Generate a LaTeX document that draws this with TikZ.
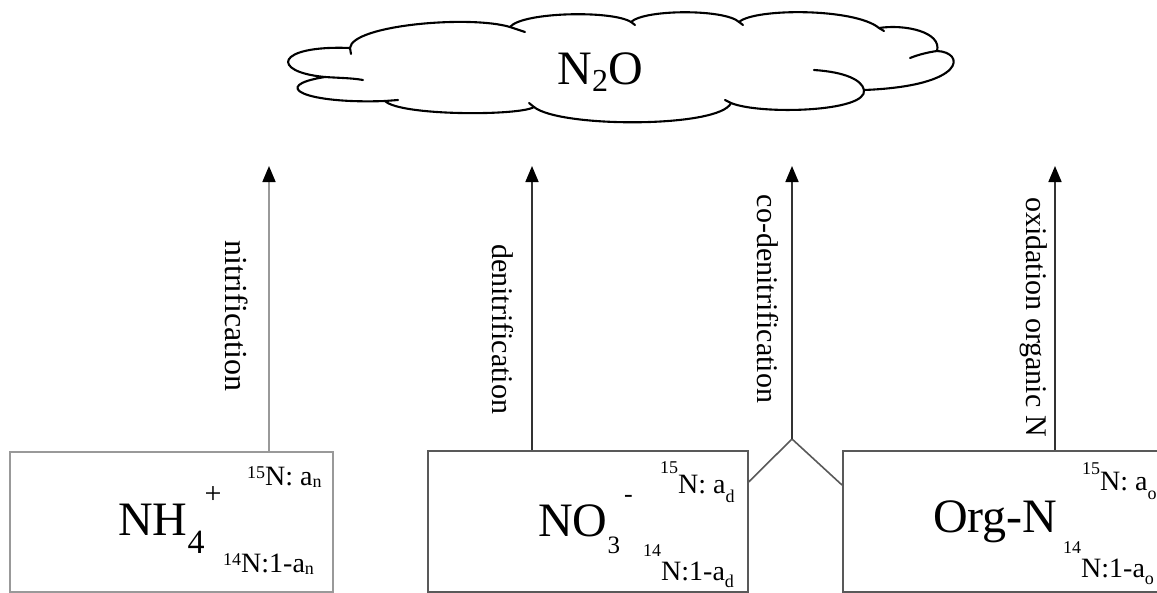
\documentclass[tikz,border=0pt]{standalone}
\usepackage{fontspec}
\setmainfont{Liberation Serif}
\usetikzlibrary{arrows.meta,calc}
\newcommand\bigf{\fontsize{48}{50}\selectfont}
\newcommand\smf{\fontsize{28}{30}\selectfont}
\newcommand\labf{\fontsize{30}{32}\selectfont}
\newcommand\tnyf{\fontsize{18}{18}\selectfont}
\newcommand\rs[2]{\raisebox{#1}{\tnyf #2}}
\definecolor{lightg}{gray}{0.6}
\definecolor{darkg}{gray}{0.35}
\definecolor{arrg}{gray}{0.2}
\begin{document}
\begin{tikzpicture}[x=1pt,y=-1pt,
  cloudline/.style={line width=2.1pt, line join=round, line cap=round, draw=black},
  boxlight/.style={draw=lightg, line width=1.6pt, rectangle, inner sep=0pt},
  boxdark/.style={draw=darkg, line width=1.6pt, rectangle, inner sep=0pt},
  arrlight/.style={draw=lightg, line width=1.7pt, -{Triangle[length=16pt,width=13pt,color=black]}},
  arrdark/.style={draw=arrg, line width=1.7pt, -{Triangle[length=16pt,width=13pt,color=black]}},
  vline/.style={draw=darkg, line width=1.6pt},
  txt/.style={inner sep=0pt, anchor=base west},
  lab/.style={inner sep=0pt, rotate=-90, font=\labf, anchor=center}
]
\useasboundingbox (0,0) rectangle (1157,592);
\clip (0,0) rectangle (1157,592);
\fill[white] (0,0) rectangle (1157,592);

% cloud
\draw[cloudline, fill=white]
 (350,48) .. controls (352,25) and (470,15) .. (510,27)
 .. controls (522,12) and (612,10) .. (631,22)
 .. controls (645,9) and (725,9) .. (739,22)
 .. controls (755,8) and (855,8) .. (879,28)
 .. controls (905,24) and (942,32) .. (937,51)
 .. controls (965,52) and (968,86) .. (864,90)
 .. controls (868,112) and (760,115) .. (731,103)
 .. controls (720,128) and (560,128) .. (534,107)
 .. controls (520,116) and (400,116) .. (385,101)
 .. controls (305,104) and (268,86) .. (325,77)
 .. controls (270,72) and (275,45) .. (350,48) -- cycle;
\draw[cloudline] (325,77) .. controls (340,78) and (352,78) .. (363,80);
\draw[cloudline] (510,27) -- (525,32);
\draw[cloudline] (910,58) .. controls (920,54) and (930,52) .. (937,51);
\draw[cloudline] (814,70) .. controls (845,72) and (862,80) .. (864,90);
\draw[cloudline] (385,101) -- (398,100);
\draw[cloudline] (350,48) -- (351,54);
\draw[cloudline] (631,22) -- (635,25);
\draw[cloudline] (739,22) -- (743,25);
\draw[cloudline] (879,28) -- (884,31);
\draw[cloudline] (731,103) -- (725,100);
\draw[cloudline] (534,107) -- (529,103);
\node[inner sep=0pt, anchor=base, font=\bigf] (n2o) at (600,84)
  {N\raisebox{-7pt}{\fontsize{32}{32}\selectfont 2}O};

% boxes
\node[boxlight, minimum width=323pt, minimum height=140pt, anchor=north west] (nh4) at (9,451) {};
\node[boxdark, minimum width=320pt, minimum height=141pt, anchor=north west] (no3) at (427,450) {};
\node[boxdark, minimum width=340pt, minimum height=141pt, anchor=north west] (org) at (842,450) {};

% box texts
\node[txt, font=\bigf] (nh4t) at (118,535)
  {NH\raisebox{-18pt}{\fontsize{34}{34}\selectfont 4}\raisebox{32pt}{\fontsize{30}{30}\selectfont +}};
\node[txt, font=\smf] (nh4a) at (247,485) {\rs{6.5pt}{15}N: a\rs{-2pt}{n}};
\node[txt, font=\smf] (nh4b) at (223,572) {\rs{6.5pt}{14}N:1-a\rs{-2pt}{n}};

\node[txt, font=\bigf] (no3t) at (538,536)
  {NO\raisebox{-17pt}{\fontsize{25}{25}\selectfont 3}\hspace{4pt}\raisebox{34pt}{\fontsize{26}{26}\selectfont -}};
\node[txt, font=\smf] (no3a) at (660,493) {\rs{20pt}{15}N: a\rs{-9pt}{d}};
\node[txt, font=\smf] (no3b) at (643,580) {\rs{24pt}{14}N:1-a\rs{-7pt}{d}};

\node[txt, font=\bigf] (orgt) at (933,532) {Org-N};
\node[txt, font=\smf] (orga) at (1082,490) {\rs{16pt}{15}N: a\rs{-9pt}{o}};
\node[txt, font=\smf] (orgb) at (1063,577) {\rs{24pt}{14}N:1-a\rs{-7pt}{o}};

% arrows
\coordinate (tipA) at (269,166);
\coordinate (tipB) at (532,166);
\coordinate (tipC) at (792,166);
\coordinate (apex) at (792,439);
\coordinate (tipD) at (1055,166);
\coordinate (vl) at (0,482);
\coordinate (vr) at (0,485);
\draw[arrlight] (nh4.north -| tipA) -- (tipA);
\draw[arrdark] (no3.north -| tipB) -- (tipB);
\draw[vline] (no3.east |- vl) -- (apex) -- (org.west |- vr);
\draw[arrdark] (apex) -- (tipC);
\draw[arrdark] (org.north -| tipD) -- (tipD);

% labels
\node[lab, font=\fontsize{32}{34}\selectfont] (l1) at (237,316) {nitrification};
\node[lab] (l2) at (503,329) {denitrification};
\node[lab] (l3) at (768,299) {co-denitrification};
\node[lab] (l4) at (1034,317) {oxidation organic N};
\end{tikzpicture}
\end{document}
